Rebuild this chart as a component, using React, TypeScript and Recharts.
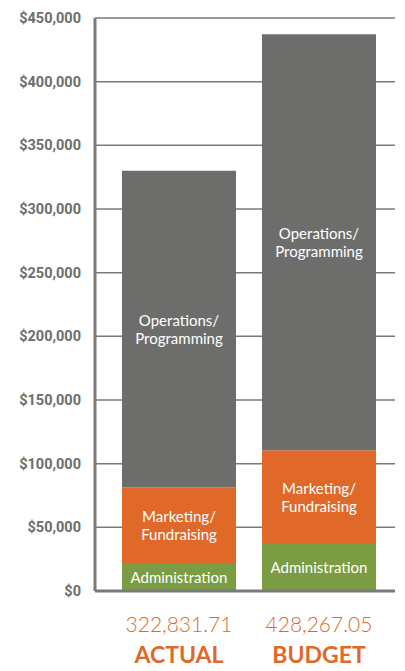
import { Bar, BarChart, CartesianGrid, LabelList, XAxis, YAxis } from "recharts"

const categories = ["ACTUAL", "BUDGET"]
const totalLabels = ["322,831.71", "428,267.05"]
const administration = [21900, 37600]
const marketing = [59600, 72900]
const operations = [248500, 326800]
const yTicks = [0, 50000, 100000, 150000, 200000, 250000, 300000, 350000, 400000, 450000]

const data = categories.map((name, i) => ({
  name,
  total: totalLabels[i],
  administration: administration[i],
  marketing: marketing[i],
  operations: operations[i],
}))

const GRAY = "#6d6e6c"
const ORANGE = "#e0692a"
const GREEN = "#7a9c43"
const LABEL_FONT = "Lato, 'Open Sans', sans-serif"

const segmentLabel = (text: string) => (props: any) => {
  const { x, y, width, height } = props
  const lines = text.split("\n")
  const cx = x + width / 2
  const cy = y + height / 2
  const lh = 18
  const start = cy - ((lines.length - 1) * lh) / 2
  return (
    <text
      x={cx}
      y={start}
      fill="#fff"
      fontSize={15}
      fontFamily={LABEL_FONT}
      textAnchor="middle"
      dominantBaseline="central"
    >
      {lines.map((l, i) => (
        <tspan key={i} x={cx} y={start + i * lh} dominantBaseline="central">
          {l}
        </tspan>
      ))}
    </text>
  )
}

const XTick = (props: any) => {
  const { x, y, payload, index } = props
  return (
    <g>
      <text
        x={x}
        y={y + 33}
        textAnchor="middle"
        fill={ORANGE}
        fontSize={21}
        fontWeight={300}
        fontFamily={LABEL_FONT}
      >
        {totalLabels[index]}
      </text>
      <text
        x={x}
        y={y + 64}
        textAnchor="middle"
        fill={ORANGE}
        fontSize={23}
        fontWeight={700}
        fontFamily={LABEL_FONT}
      >
        {payload.value}
      </text>
    </g>
  )
}

export default function App() {
  return (
    <div style={{ position: "absolute", left: 0, top: 0, background: "#fff" }}>
      <BarChart
        width={405}
        height={671}
        data={data}
        margin={{ top: 18, right: 10, left: 0, bottom: 0 }}
      >
        <CartesianGrid vertical={false} stroke="#7a7a7a" strokeWidth={1.5} />
        <XAxis
          dataKey="name"
          height={80}
          axisLine={{ stroke: "#7a7a7a", strokeWidth: 3 }}
          tickLine={false}
          tick={<XTick />}
          padding={{ left: 14, right: 6 }}
          interval={0}
        />
        <YAxis
          width={95}
          domain={[0, 450000]}
          ticks={yTicks}
          axisLine={{ stroke: "#7a7a7a", strokeWidth: 3 }}
          tickLine={false}
          tickMargin={8}
          tick={{ fill: GRAY, fontSize: 14.5, fontWeight: 700, fontFamily: "Roboto, sans-serif" }}
          tickFormatter={(v: number) => `$${v.toLocaleString("en-US")}`}
        />
        <Bar dataKey="administration" stackId="a" fill={GREEN} barSize={114} isAnimationActive={false}>
          <LabelList content={segmentLabel("Administration")} />
        </Bar>
        <Bar dataKey="marketing" stackId="a" fill={ORANGE} barSize={114} isAnimationActive={false}>
          <LabelList content={segmentLabel("Marketing/\nFundraising")} />
        </Bar>
        <Bar dataKey="operations" stackId="a" fill={GRAY} barSize={114} isAnimationActive={false}>
          <LabelList content={segmentLabel("Operations/\nProgramming")} />
        </Bar>
      </BarChart>
    </div>
  )
}
